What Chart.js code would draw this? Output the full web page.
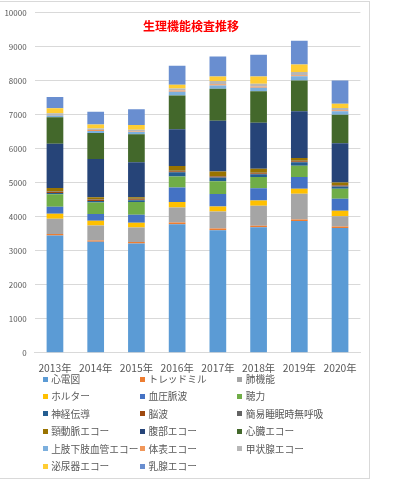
<!DOCTYPE html>
<html><head><meta charset="utf-8">
<script src="https://cdn.jsdelivr.net/npm/chart.js@4"></script>
<style>
html,body{margin:0;padding:0;background:#fff;width:394px;height:480px;overflow:hidden;}
#frame{position:absolute;left:-2px;top:1px;width:372px;height:478px;border:1px solid #D9D9D9;box-sizing:border-box;}
#c{position:absolute;left:0;top:0;}
.lg{position:absolute;height:17px;display:flex;align-items:center;white-space:nowrap;font-family:"Noto Sans CJK JP",sans-serif;font-size:9.7px;color:#595959;}
.lg i{display:inline-block;width:5px;height:5px;margin-right:3.5px;}
</style>
</head><body>
<div id="frame"></div>
<canvas id="c" width="370" height="383"></canvas>
<div id="legend"></div>
<script>
const categories = ['2013年','2014年','2015年','2016年','2017年','2018年','2019年','2020年'];
const seriesNames = ['心電図','トレッドミル','肺機能','ホルター','血圧脈波','聴力','神経伝導','脳波','簡易睡眠時無呼吸','頸動脈エコー','腹部エコー','心臓エコー','上肢下肢血管エコー','体表エコー','甲状腺エコー','泌尿器エコー','乳腺エコー'];
const ecg        = [3450, 3260, 3210, 3780, 3605, 3690, 3875, 3665];
const treadmill  = [40, 40, 45, 50, 45, 45, 45, 50];
const lung       = [450, 440, 430, 440, 505, 590, 755, 295];
const holter     = [150, 140, 140, 160, 145, 155, 150, 165];
const pulseWave  = [200, 200, 230, 430, 365, 360, 340, 355];
const hearing    = [370, 340, 380, 320, 375, 325, 335, 290];
const nerve      = [40, 40, 50, 130, 115, 85, 105, 70];
const eeg        = [30, 40, 30, 30, 30, 30, 28, 28];
const sleepApnea = [15, 15, 10, 10, 12, 13, 12, 12];
const carotid    = [100, 60, 50, 140, 130, 120, 85, 75];
const abdominal  = [1300, 1120, 1030, 1080, 1500, 1350, 1370, 1160];
const cardiac    = [780, 770, 820, 1000, 940, 930, 910, 835];
const limbVessel = [50, 60, 65, 110, 95, 105, 125, 105];
const surface    = [20, 25, 20, 30, 35, 30, 29, 29];
const thyroid    = [50, 45, 50, 60, 95, 85, 96, 67];
const urology    = [150, 115, 140, 110, 135, 210, 220, 125];
const breast     = [330, 380, 460, 560, 590, 640, 700, 680];
const yTicks = [0,1000,2000,3000,4000,5000,6000,7000,8000,9000,10000];
const titleText = '生理機能検査推移';

const seriesValues = [ecg,treadmill,lung,holter,pulseWave,hearing,nerve,eeg,sleepApnea,carotid,abdominal,cardiac,limbVessel,surface,thyroid,urology,breast];
const colors = ['#5B9BD5','#ED7D31','#A5A5A5','#FFC000','#4472C4','#70AD47','#255E91','#9E480E','#636363','#997300','#264478','#43682B','#7CAFDD','#F1975A','#B7B7B7','#FFCD33','#698ED0'];

const FONT = '"Noto Sans CJK JP", "Noto Sans", sans-serif';

const titlePlugin = {
  id: 'overlayTitle',
  afterDraw(chart) {
    const ctx = chart.ctx;
    ctx.save();
    ctx.font = 'bold 12px ' + FONT;
    ctx.fillStyle = '#FF0000';
    ctx.textAlign = 'center';
    ctx.textBaseline = 'middle';
    ctx.fillText(titleText, 191, 26);
    ctx.restore();
  }
};

const chart = new Chart(document.getElementById('c'), {
  type: 'bar',
  data: {
    labels: categories,
    datasets: seriesNames.map((n, i) => ({
      label: n,
      data: seriesValues[i],
      backgroundColor: colors[i],
      borderWidth: 0,
      barPercentage: 0.41,
      categoryPercentage: 1
    }))
  },
  options: {
    responsive: false,
    devicePixelRatio: 1,
    animation: false,
    layout: { padding: { left: 0, right: 9.6, top: 0, bottom: 0 } },
    plugins: { legend: { display: false }, title: { display: false }, tooltip: { enabled: false } },
    scales: {
      x: {
        stacked: true,
        grid: { display: false, drawTicks: false },
        border: { display: true, color: '#D9D9D9' },
        ticks: { font: { family: FONT, size: 10.3 }, color: '#595959', padding: 9, maxRotation: 0, autoSkip: false }
      },
      y: {
        stacked: true,
        min: 0, max: 10000,
        afterBuildTicks(scale) { scale.ticks = yTicks.map(v => ({ value: v })); },
        afterFit(scale) { scale.width = 34.6; },
        grid: { color: '#D9D9D9', drawTicks: false },
        border: { display: false },
        ticks: { font: { family: FONT, size: 8 }, color: '#595959', padding: 8, callback: v => String(v) }
      }
    }
  },
  plugins: [titlePlugin]
});

const lg = document.getElementById('legend');
chart.data.datasets.forEach((ds, i) => {
  const row = Math.floor(i / 3), col = i % 3;
  const d = document.createElement('div');
  d.className = 'lg';
  d.style.left = (42.7 + col * 97.3) + 'px';
  d.style.top = (379 + row * 17.4 - 8.5) + 'px';
  const m = document.createElement('i');
  m.style.background = ds.backgroundColor;
  d.appendChild(m);
  d.appendChild(document.createTextNode(ds.label));
  lg.appendChild(d);
});
</script>
</body></html>
